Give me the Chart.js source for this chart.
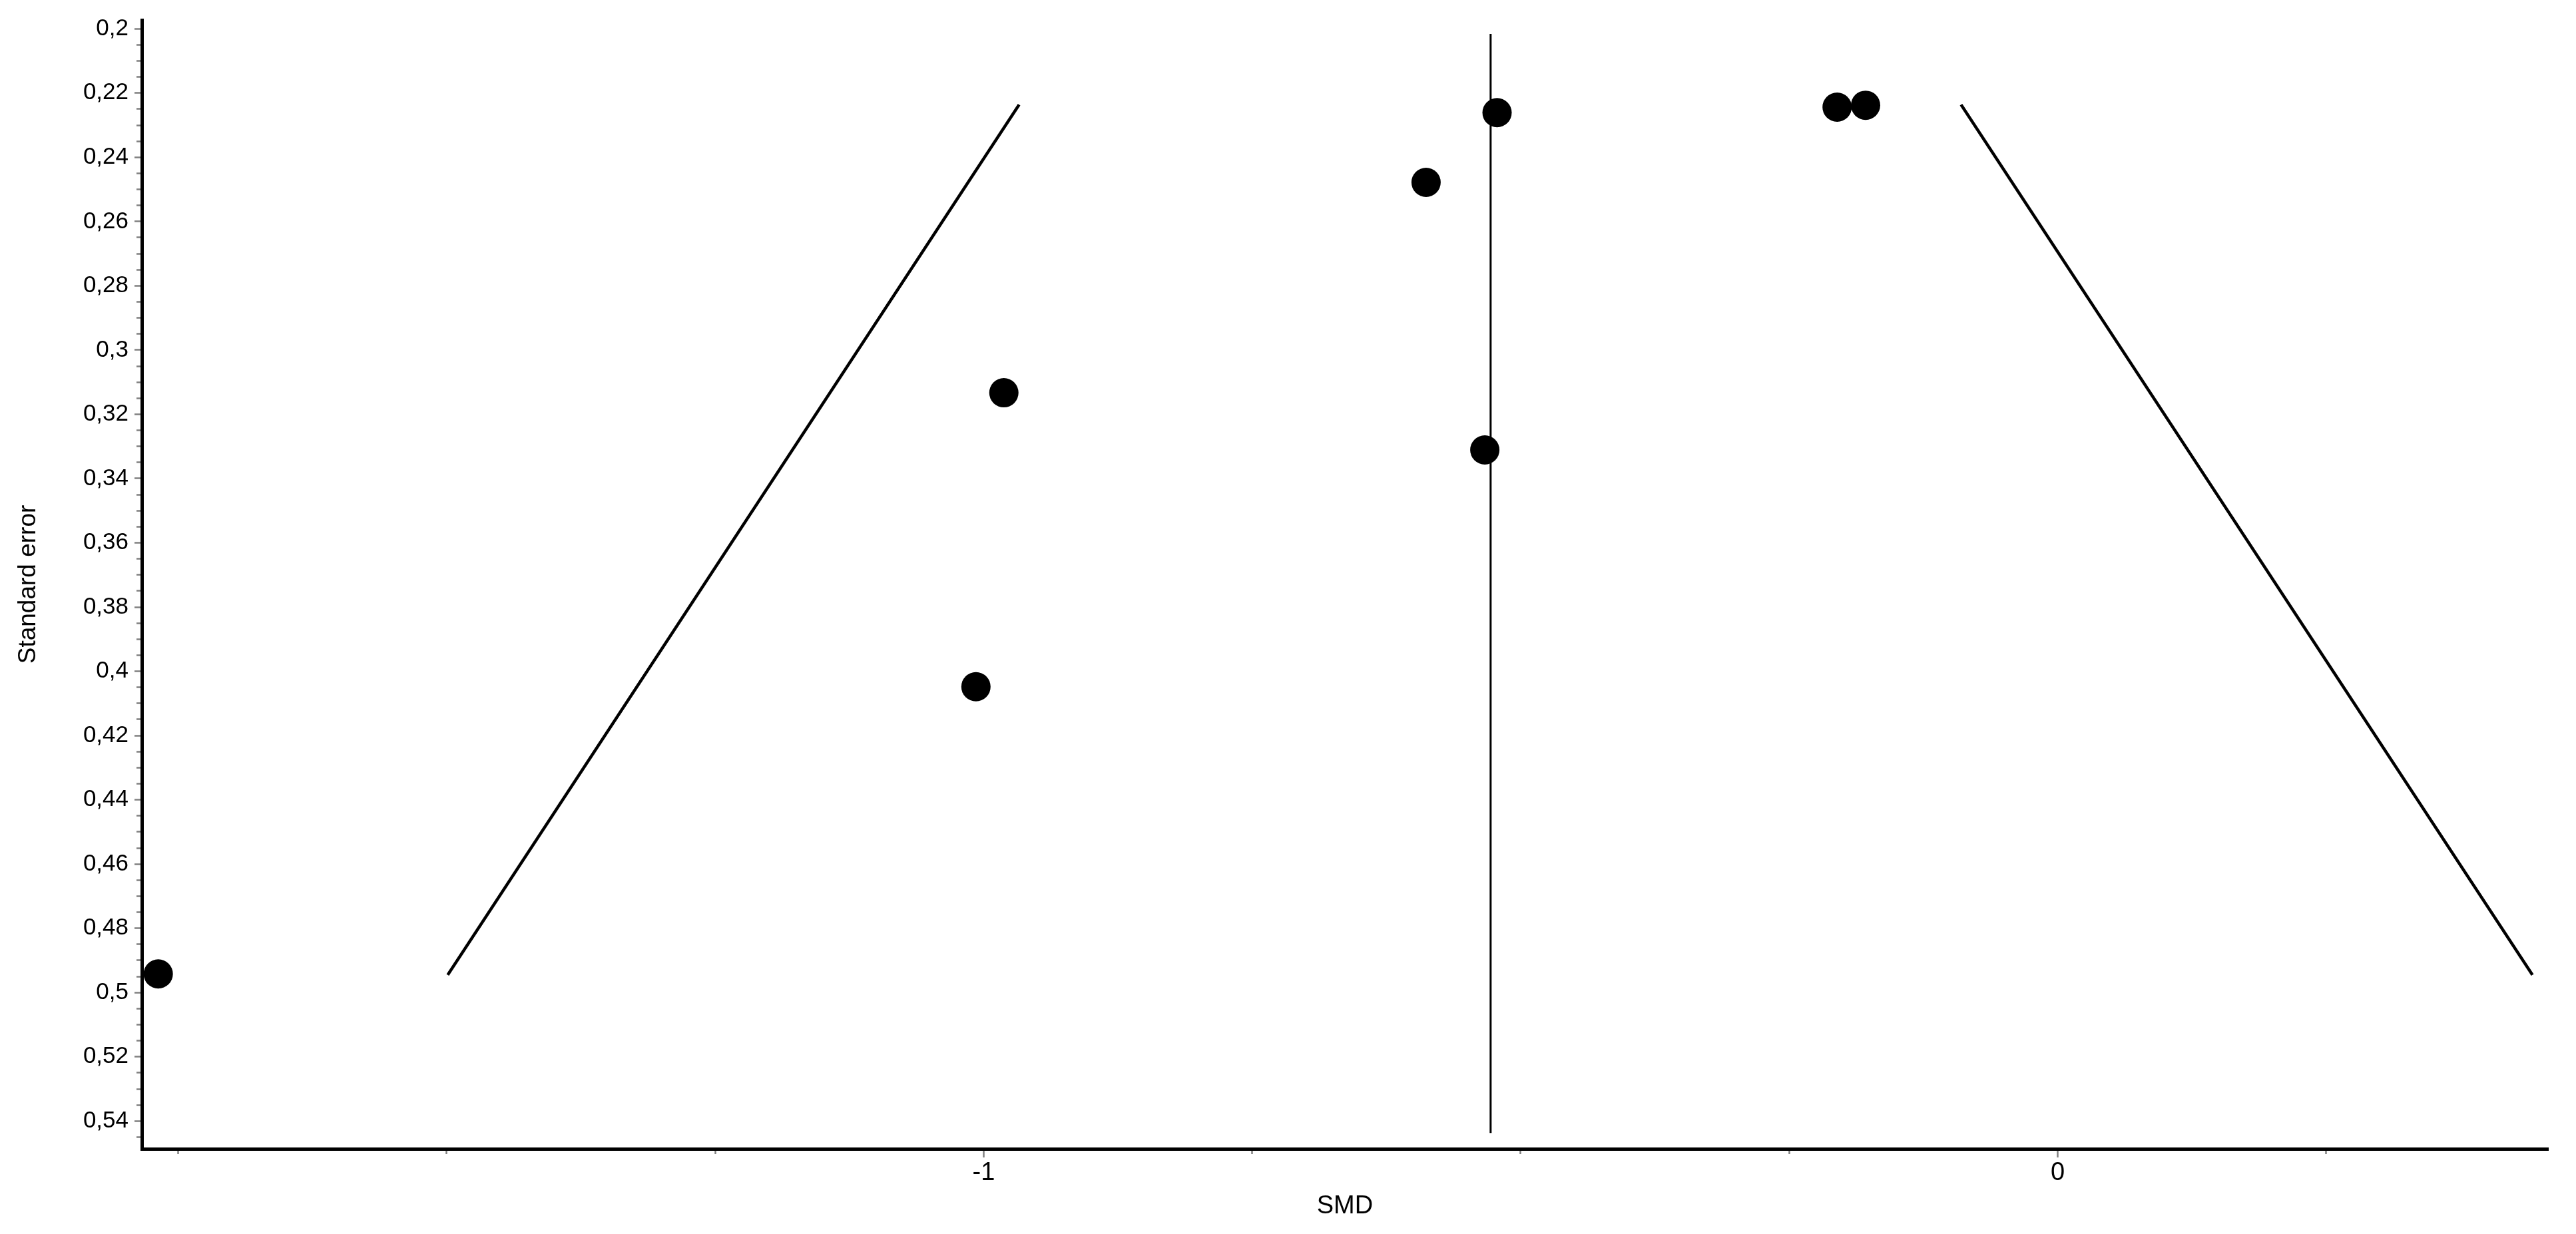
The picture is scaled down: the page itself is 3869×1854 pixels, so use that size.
<!DOCTYPE html>
<html>
<head>
<meta charset="utf-8">
<script src="https://cdn.jsdelivr.net/npm/chart.js@4.4.1/dist/chart.umd.min.js"></script>
<style>
  html, body { margin: 0; padding: 0; background: #ffffff; }
  #wrap { width: 3869px; height: 1854px; }
</style>
</head>
<body>
<div id="wrap"><canvas id="c" width="3869" height="1854"></canvas></div>
<script>
// ---- data ----
const studySmd = [-1.7685, -1.0072, -0.9812, -0.5881, -0.5220, -0.5334, -0.2054, -0.1789];
const studySe  = [0.4942, 0.4048, 0.3133, 0.2478, 0.2261, 0.3311, 0.2244, 0.2238];

const pooledSmd = [-0.528, -0.528];
const pooledSe  = [0.2016, 0.5437];

const funnelSe     = [0.2236, 0.4945];
const funnelLeftX  = [-0.967, -1.499];
const funnelRightX = [-0.090, 0.442];

const yTickLabels = ['0,2','0,22','0,24','0,26','0,28','0,3','0,32','0,34','0,36','0,38','0,4','0,42','0,44','0,46','0,48','0,5','0,52','0,54'];
const xTickLabels = ['-1', '0'];

const xAxisTitle = 'SMD';
const yAxisTitle = 'Standard error';

// ---- helpers ----
const toPts = (xs, ys) => xs.map((x, i) => ({ x: x, y: ys[i] }));
const yLabelMap = {};
yTickLabels.forEach(l => { yLabelMap[Math.round(parseFloat(l.replace(',', '.')) * 1000)] = l; });
const xLabelMap = {};
xTickLabels.forEach(l => { xLabelMap[Math.round(parseFloat(l) * 100)] = l; });

const isYMajor = v => yLabelMap.hasOwnProperty(Math.round(v * 1000));
const isXMajor = v => xLabelMap.hasOwnProperty(Math.round(v * 100));

const narrow = '"Liberation Sans Narrow", "Arial Narrow", "Liberation Sans", Arial, sans-serif';
const regular = '"Liberation Sans", Arial, sans-serif';

new Chart(document.getElementById('c'), {
  type: 'scatter',
  data: {
    datasets: [
      {
        label: 'Studies',
        data: toPts(studySmd, studySe),
        backgroundColor: '#000000',
        borderColor: '#000000',
        pointRadius: 22,
        pointHoverRadius: 22,
        borderWidth: 0,
        showLine: false,
        clip: false
      },
      {
        label: 'Pooled',
        type: 'line',
        data: toPts(pooledSmd, pooledSe),
        borderColor: '#000000',
        borderWidth: 3,
        pointRadius: 0,
        fill: false,
        tension: 0
      },
      {
        label: 'Funnel left',
        type: 'line',
        data: toPts(funnelLeftX, funnelSe),
        borderColor: '#000000',
        borderWidth: 4.5,
        pointRadius: 0,
        fill: false,
        tension: 0
      },
      {
        label: 'Funnel right',
        type: 'line',
        data: toPts(funnelRightX, funnelSe),
        borderColor: '#000000',
        borderWidth: 4.5,
        pointRadius: 0,
        fill: false,
        tension: 0
      }
    ]
  },
  options: {
    responsive: false,
    maintainAspectRatio: false,
    devicePixelRatio: 1,
    animation: false,
    events: [],
    layout: { padding: { top: 29, right: 42, bottom: 0, left: 0 } },
    plugins: {
      legend: { display: false },
      tooltip: { enabled: false },
      title: { display: false }
    },
    scales: {
      x: {
        type: 'linear',
        position: 'bottom',
        min: -1.7838,
        max: 0.4565,
        afterFit: s => { s.height = 128; },
        border: { display: true, color: '#000000', width: 5 },
        grid: {
          drawOnChartArea: false,
          drawTicks: true,
          tickLength: 13,
          tickWidth: 2.5,
          tickColor: '#808080',
          tickBorderDash: ctx => (ctx.tick && isXMajor(ctx.tick.value)) ? [] : [5, 100]
        },
        ticks: {
          stepSize: 0.25,
          includeBounds: false,
          autoSkip: false,
          maxRotation: 0,
          padding: 1,
          color: '#000000',
          font: { family: narrow, size: 38 },
          callback: v => {
            const k = Math.round(v * 100);
            return xLabelMap.hasOwnProperty(k) ? xLabelMap[k] : '';
          }
        },
        title: {
          display: true,
          text: xAxisTitle,
          color: '#000000',
          font: { family: narrow, size: 38 },
          padding: { top: 0, bottom: 19 }
        }
      },
      y: {
        type: 'linear',
        position: 'left',
        reverse: true,
        min: 0.19725,
        max: 0.54864,
        afterFit: s => { s.width = 213; },
        border: { display: true, color: '#000000', width: 5 },
        grid: {
          drawOnChartArea: false,
          drawTicks: true,
          tickLength: 11,
          tickWidth: 2.5,
          tickColor: '#808080',
          tickBorderDash: ctx => (ctx.tick && isYMajor(ctx.tick.value)) ? [] : [0, 3, 100, 1]
        },
        ticks: {
          stepSize: 0.005,
          includeBounds: false,
          autoSkip: false,
          padding: 9,
          color: '#000000',
          font: { family: regular, size: 35 },
          callback: v => {
            const k = Math.round(v * 1000);
            return yLabelMap.hasOwnProperty(k) ? yLabelMap[k] : '';
          }
        },
        title: {
          display: true,
          text: yAxisTitle,
          color: '#000000',
          font: { family: regular, size: 37 },
          padding: { top: 21, bottom: 0 }
        }
      }
    }
  }
});
</script>
</body>
</html>
